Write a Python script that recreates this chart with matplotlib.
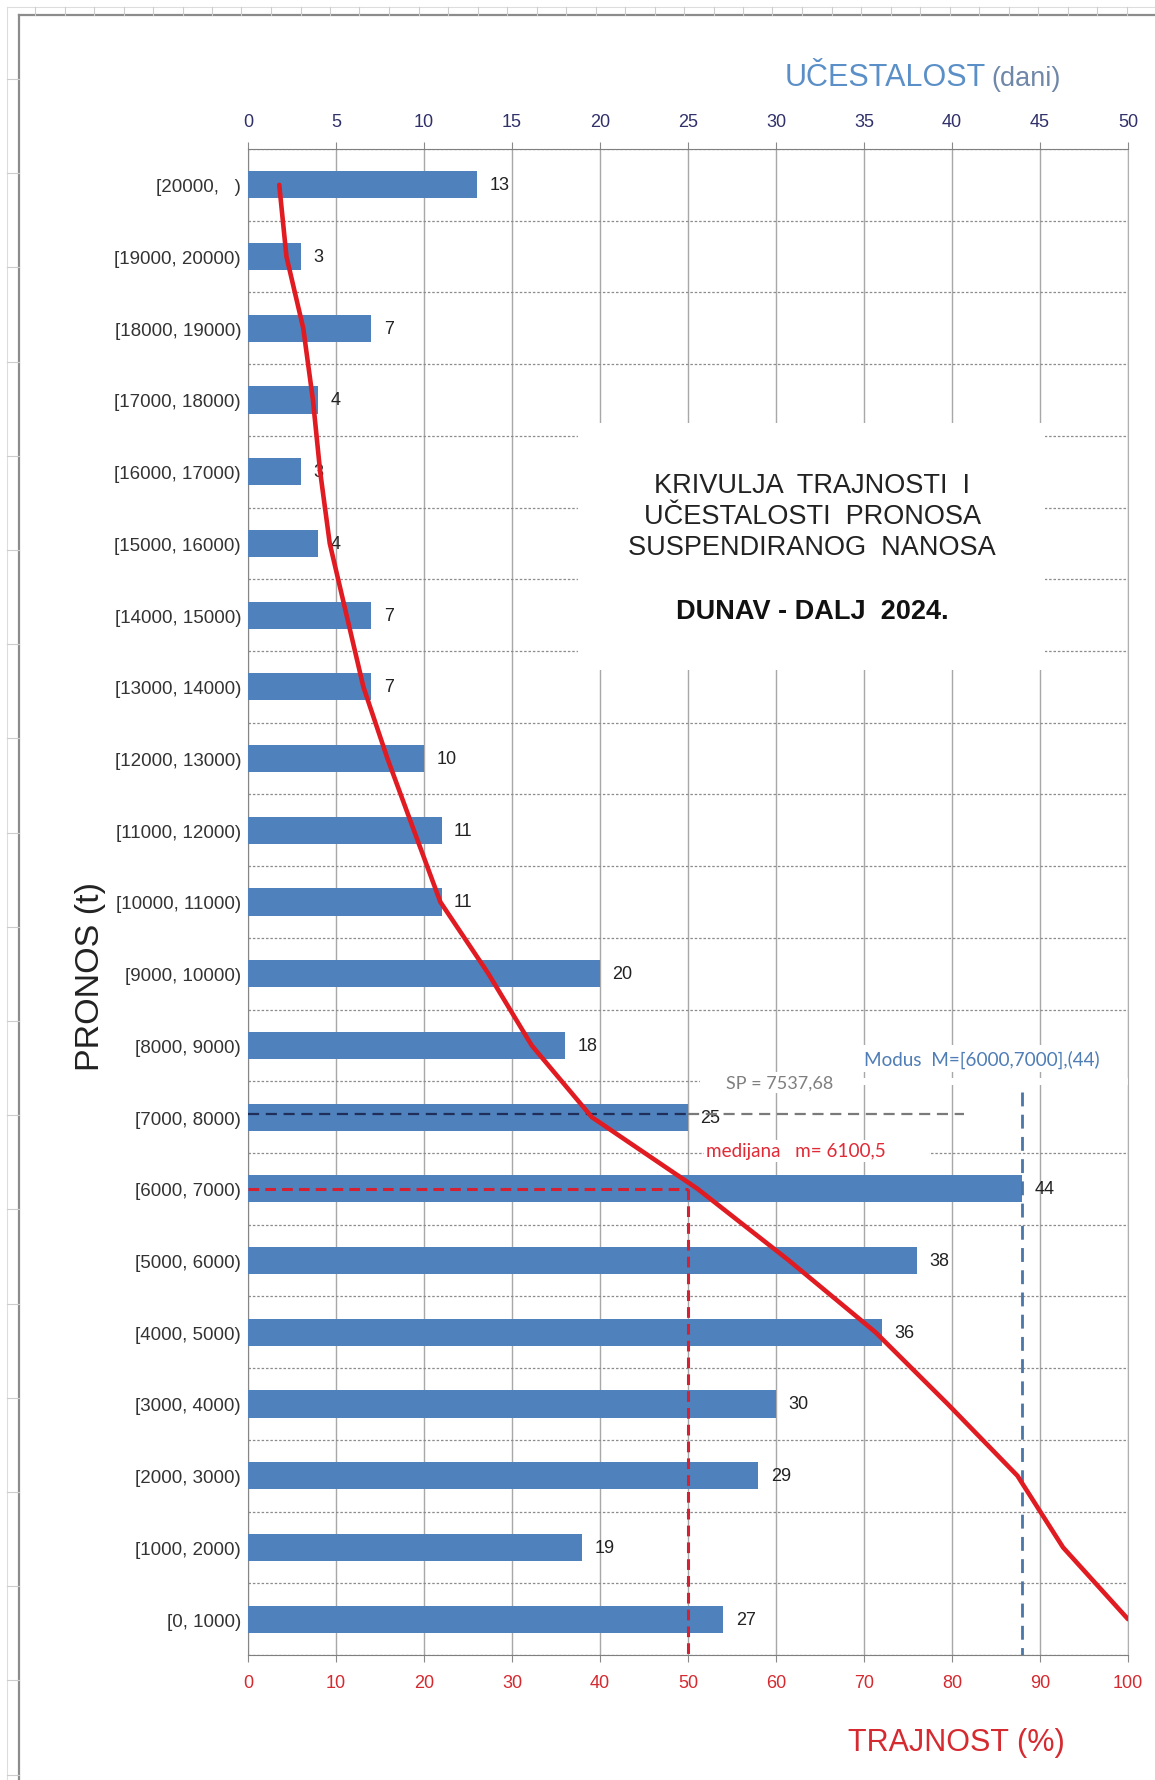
import numpy as np
import matplotlib.pyplot as plt
from matplotlib.lines import Line2D
from matplotlib.patches import Rectangle

plt.rcParams['font.family'] = ['Liberation Sans', 'DejaVu Sans']

# data (top row first)
razredi = ['[20000,   )', '[19000, 20000)', '[18000, 19000)', '[17000, 18000)',
           '[16000, 17000)', '[15000, 16000)', '[14000, 15000)', '[13000, 14000)',
           '[12000, 13000)', '[11000, 12000)', '[10000, 11000)', '[9000, 10000)',
           '[8000, 9000)', '[7000, 8000)', '[6000, 7000)', '[5000, 6000)',
           '[4000, 5000)', '[3000, 4000)', '[2000, 3000)', '[1000, 2000)', '[0, 1000)']
donje_granice = [20000, 19000, 18000, 17000, 16000, 15000, 14000, 13000, 12000, 11000,
                 10000, 9000, 8000, 7000, 6000, 5000, 4000, 3000, 2000, 1000, 0]
ucestalost = [13, 3, 7, 4, 3, 4, 7, 7, 10, 11, 11, 20, 18, 25, 44, 38, 36, 30, 29, 19, 27]
trajnost = [3.55, 4.37, 6.28, 7.38, 8.20, 9.29, 11.20, 13.11, 15.85, 18.85, 21.86,
            27.32, 32.24, 39.07, 51.09, 61.48, 71.31, 79.51, 87.43, 92.62, 100.0]

srednji_pronos = 7537.68   # SP
medijana = 6100.5
modus_razred = 14          # [6000, 7000)

W, H = 1155, 1781
def fx(px):
    return px / W
def fy(py):
    return 1 - py / H

fig = plt.figure(figsize=(W / 100, H / 100), dpi=100)
ax = fig.add_axes([fx(248), fy(1656), (1128 - 248) / W, (1656 - 150) / H])
ax2 = ax.twiny()   # trajnost (%) axis, bottom

y = np.arange(len(razredi))
bars = ax.barh(y, ucestalost, height=0.38, color='#4f81bd', zorder=3)
ax.bar_label(bars, padding=9, fontsize=13, color='#222222')

ax.set_xlim(0, 50)
ax.set_ylim(len(razredi) - 0.5, -0.5)
ax.xaxis.set_ticks_position('top')
ax.xaxis.set_label_position('top')
ax.set_xticks(range(0, 51, 5))
ax.tick_params(axis='x', colors='#8a8a8a', labelcolor='#30306a', labelsize=13,
               length=5, pad=9)
ax.set_yticks(y, razredi)
ax.tick_params(axis='y', length=0, pad=5, labelsize=13.5, labelcolor='#333333')
ax.set_yticks(np.arange(-0.5, len(razredi), 1), minor=True)
ax.tick_params(axis='y', which='minor', length=0)

ax.set_axisbelow(True)
ax.grid(axis='x', color='#a8a8a8', lw=1.0)
ax.grid(axis='y', which='minor', color='#8c8c8c', lw=0.9, ls=(0, (2, 1.5)))
ax.spines['left'].set_color('#868686')
ax.spines['top'].set_color('#7f7f7f')
ax.spines['right'].set_color('#b0b0b0')
ax.spines['bottom'].set_visible(False)

# white boxes behind the texts
ax.add_patch(Rectangle((18.75, 3.32), 45.3 - 18.75, 6.76 - 3.32, facecolor='white',
                       edgecolor='none', zorder=2))
ax.add_patch(Rectangle((25.7, 12.45), 50 - 25.7, 0.1, facecolor='white',
                       edgecolor='none', zorder=2))
ax.add_patch(Rectangle((26.0, 13.45), 38.7 - 26.0, 0.1, facecolor='white',
                       edgecolor='none', zorder=2))

ax.text(32.05, 4.62, 'KRIVULJA  TRAJNOSTI  I\nUČESTALOSTI  PRONOSA\nSUSPENDIRANOG  NANOSA',
        ha='center', va='center', fontsize=19.5, color='#222222', linespacing=1.25, zorder=4)
ax.text(32.05, 5.94, 'DUNAV - DALJ  2024.', ha='center', va='center', fontsize=19.5,
        fontweight='bold', color='#111111', zorder=4)

# SP line
i_sp = next(i for i, g in enumerate(donje_granice) if g <= srednji_pronos)
sp_y = i_sp + 0.5 - (srednji_pronos - donje_granice[i_sp]) / 1000
ax.plot([0, ucestalost[i_sp]], [sp_y, sp_y], color='#1f2f5a', lw=1.6,
        ls=(0, (5, 3)), zorder=4)
ax.plot([ucestalost[i_sp], 40.7], [sp_y, sp_y], color='#7a7a7a', lw=1.6,
        ls=(0, (5, 3)), zorder=4)
ax.text(30.2, 12.52, 'SP = 7537,68', ha='center', va='center', fontsize=13,
        family='Lato', color='#7f7f7f', zorder=5,
        bbox=dict(facecolor='white', edgecolor='none', pad=2))

# modus
ax.plot([ucestalost[modus_razred]] * 2, [12.65, len(razredi) - 0.5], color='#4a76a8',
        lw=2.0, ls=(0, (5, 3)), zorder=4, clip_on=False)
ax.text(41.7, 12.18, 'Modus  M=[6000,7000],(44)', ha='center', va='center',
        fontsize=13.6, family='Lato', color='#4f7db5', zorder=5,
        bbox=dict(facecolor='white', edgecolor='none', pad=3))

# trajnost curve on the second x axis
ax2.set_xlim(0, 100)
ax2.xaxis.set_ticks_position('bottom')
ax2.xaxis.set_label_position('bottom')
ax2.set_xticks(range(0, 101, 10))
ax2.tick_params(axis='x', colors='#8a8a8a', labelcolor='#d42a30', labelsize=13,
                length=5, pad=9)
for s in ['top', 'left', 'right']:
    ax2.spines[s].set_visible(False)
ax2.spines['bottom'].set_color('#7f7f7f')

i_med = next(i for i, g in enumerate(donje_granice) if g <= medijana)
ax2.plot([0, 50], [i_med, i_med], color='#d42030', lw=2.2, ls=(0, (3.5, 2)), zorder=4)
ax2.plot([50, 50], [i_med, len(razredi) - 0.5], color='#d42030', lw=2.2,
         ls=(0, (3.5, 2)), zorder=4, clip_on=False)
ax2.text(62.3, 13.47, 'medijana   m= 6100,5', ha='center', va='center', fontsize=13.6,
         family='Lato', color='#e02a36', zorder=5,
         bbox=dict(facecolor='white', edgecolor='none', pad=2))

ax2.plot(trajnost, y, color='#e01b22', lw=3.3, solid_joinstyle='round',
         solid_capstyle='round', zorder=6)

# axis titles
fig.text(fx(986), fy(86), 'UČESTALOST', ha='right', va='baseline', fontsize=22,
         color='#5b8fc7')
fig.text(fx(991), fy(86), '(dani)', ha='left', va='baseline', fontsize=19.5,
         color='#6f87a8')
fig.text(fx(956), fy(1743), 'TRAJNOST (%)', ha='center', va='center', fontsize=22,
         color='#d42a30')
fig.text(fx(90), fy(977), 'PRONOS (t)', ha='center', va='center', rotation=90,
         fontsize=24.5, color='#222222')

# chart area border and the spreadsheet cells behind it
fig.add_artist(Line2D([fx(19), fx(19)], [0, fy(16)], color='#8c8c8c', lw=1.6))
fig.add_artist(Line2D([fx(19), 1], [fy(16), fy(16)], color='#8c8c8c', lw=1.6))
fig.add_artist(Line2D([fx(7), fx(7)], [0, fy(8)], color='#dddddd', lw=0.8))
fig.add_artist(Line2D([fx(7), 1], [fy(8), fy(8)], color='#dddddd', lw=0.8))
for px in np.arange(35, W, 29.5):
    fig.add_artist(Line2D([fx(px), fx(px)], [fy(8), fy(16)], color='#cccccc', lw=0.8))
for py in np.arange(80, H, 94.2):
    fig.add_artist(Line2D([fx(7), fx(19)], [fy(py), fy(py)], color='#cccccc', lw=0.8))

fig.savefig('out.png', dpi=100, facecolor='white')
